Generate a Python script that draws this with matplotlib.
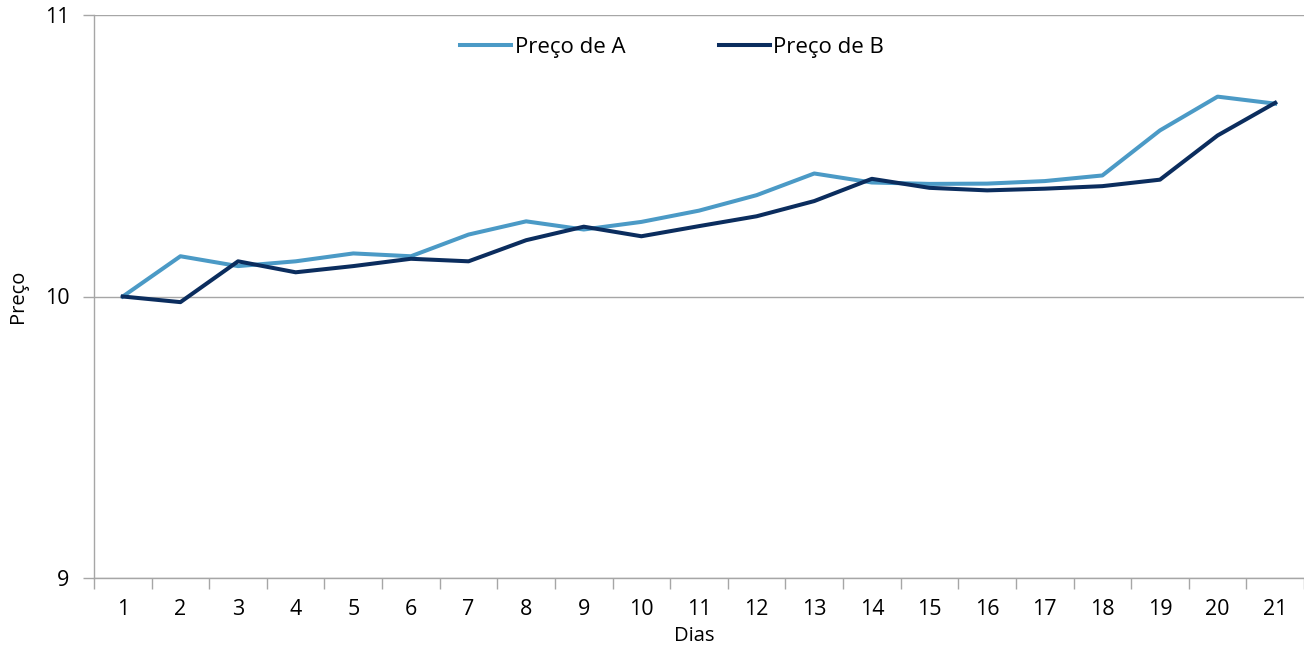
import matplotlib
matplotlib.use("Agg")
import matplotlib.pyplot as plt
from matplotlib.ticker import FixedLocator

dias = [str(i) for i in range(1, 22)]
preco_a = [10.0, 10.143, 10.108, 10.125, 10.153, 10.143, 10.22, 10.267, 10.238, 10.265,
           10.305, 10.36, 10.437, 10.405, 10.40, 10.401, 10.41, 10.43, 10.59, 10.71, 10.685]
preco_b = [10.0, 9.98, 10.125, 10.086, 10.108, 10.134, 10.125, 10.20, 10.248, 10.214,
           10.25, 10.285, 10.339, 10.418, 10.386, 10.377, 10.383, 10.392, 10.415, 10.572, 10.688]
y_ticks = [9, 10, 11]

plt.rcParams['font.family'] = ['Open Sans', 'DejaVu Sans']

fig = plt.figure(figsize=(13.04, 6.5), dpi=100)
ax = fig.add_axes([94/1304, 1 - 578/650, 1 - 94/1304, (578 - 15)/650])

x = list(range(len(dias)))
ax.plot(x, preco_a, color='#4B9AC6', lw=2.9, label='Preço de A', solid_joinstyle='round')
ax.plot(x, preco_b, color='#0B2D5E', lw=2.9, label='Preço de B', solid_joinstyle='round')

ax.set_xlim(-0.5, len(dias) - 0.5)
ax.set_ylim(9, 11)
ax.set_yticks(y_ticks)
ax.set_yticklabels([str(v) for v in y_ticks])
ax.set_xticks(x)
ax.set_xticklabels(dias)
ax.xaxis.set_minor_locator(FixedLocator([i - 0.5 for i in range(len(dias) + 1)]))
ax.tick_params(axis='x', which='major', length=0, pad=15, labelsize=15.5)
ax.tick_params(axis='x', which='minor', length=8, width=1, color='#A6A6A6')
ax.tick_params(axis='y', which='major', length=8, width=1, color='#A6A6A6', pad=9.5, labelsize=15.5)

ax.grid(axis='y', color='#A6A6A6', lw=1)
ax.set_axisbelow(True)
for s in ['top', 'right']:
    ax.spines[s].set_visible(False)
for s in ['left', 'bottom']:
    ax.spines[s].set_color('#A6A6A6')
    ax.spines[s].set_linewidth(1)

ax.set_xlabel('Dias', fontsize=14.5)
ax.xaxis.set_label_coords((694 - 94) / 1210, (578 - 636) / 563)
ax.xaxis.label.set_va('center')
ax.set_ylabel('Preço', fontsize=14.5)
ax.yaxis.set_label_coords((18 - 94) / 1210, 0.5)
ax.yaxis.label.set_va('center')

ax.legend(loc='center', bbox_to_anchor=((672 - 94) / 1210, (578 - 47) / 563), ncol=2,
          frameon=False, fontsize=16, handlelength=2.3, handletextpad=0.15,
          columnspacing=4.2)

fig.savefig('out.png', dpi=100)
